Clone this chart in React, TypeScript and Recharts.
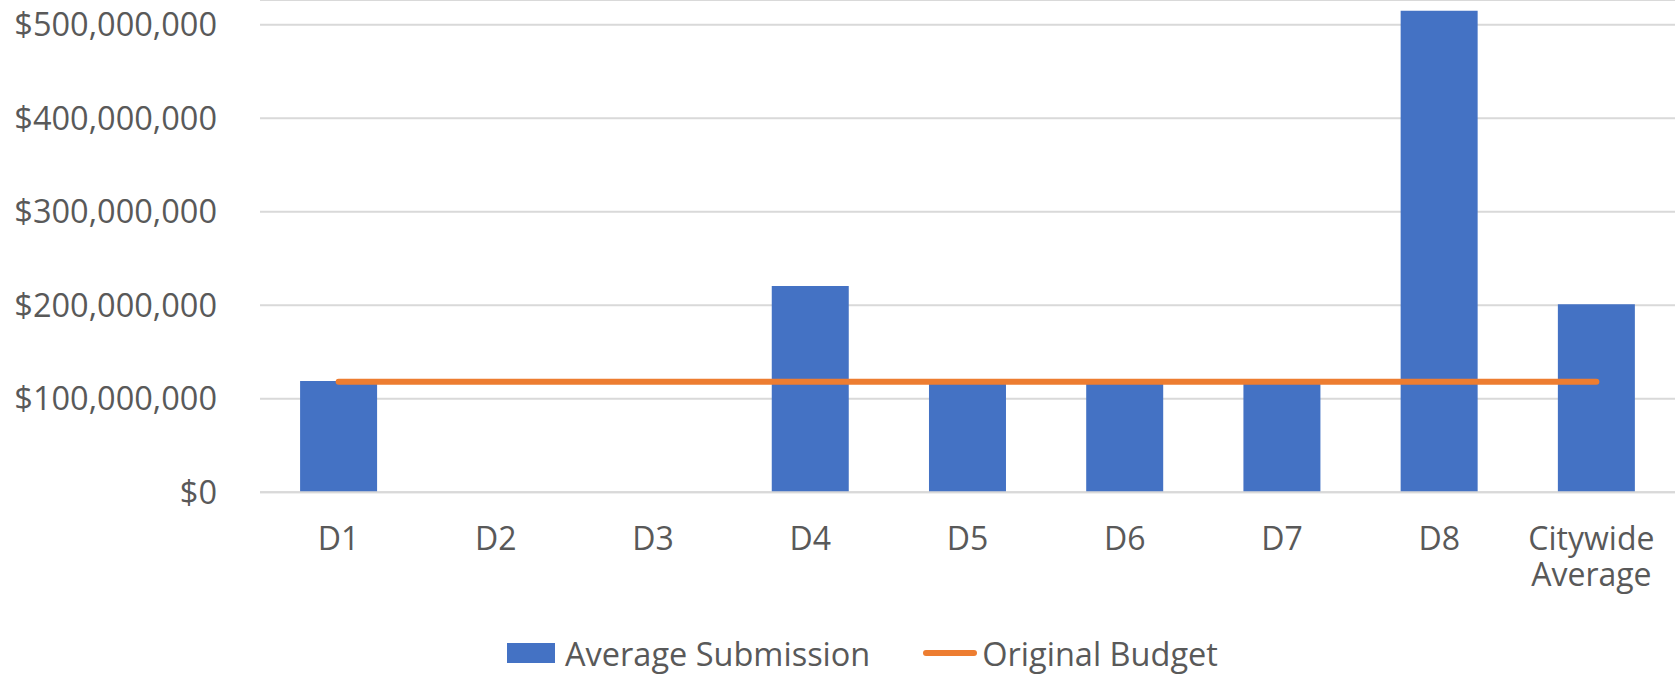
import React from "react";
import { ComposedChart, Bar, Line, XAxis, YAxis, CartesianGrid, Legend } from "recharts";

const categories = ["D1", "D2", "D3", "D4", "D5", "D6", "D7", "D8", "Citywide Average"];
const averageSubmission = [119000000, 0, 0, 220500000, 117000000, 117000000, 117000000, 515000000, 201000000];
const originalBudget = [118200000, 118200000, 118200000, 118200000, 118200000, 118200000, 118200000, 118200000, 118200000];
const yTicks = [0, 100000000, 200000000, 300000000, 400000000, 500000000];
const yMax = 526500000;

const data = categories.map((c, i) => ({
  name: c,
  avg: averageSubmission[i],
  budget: originalBudget[i],
}));

const FONT = "'Open Sans', sans-serif";
const TEXT = "#595959";

const XTick = (props: any) => {
  const { x, y, payload } = props;
  const words: string[] = String(payload.value).split(" ");
  return (
    <g>
      {words.map((w, i) => (
        <text
          key={i}
          x={x - (words.length > 1 ? 5 : 0)}
          y={y + 58 + i * 36}
          textAnchor="middle"
          fill={TEXT}
          fontFamily={FONT}
          fontSize={32}
        >
          {w}
        </text>
      ))}
    </g>
  );
};

const fmt = (v: number) => "$" + v.toLocaleString("en-US");

const LegendContent = (props: any) => {
  const payload = props.payload || [];
  return (
    <div style={{ display: "flex", alignItems: "center", fontFamily: FONT, fontSize: 32.5, color: TEXT, height: 40, whiteSpace: "nowrap" }}>
      {payload.map((p: any, i: number) => (
        <div key={i} style={{ display: "flex", alignItems: "center", marginRight: 53 }}>
          {p.type === "rect" ? (
            <div style={{ width: 48, height: 20, background: p.color, marginRight: 10 }} />
          ) : (
            <div style={{ width: 54, height: 6, borderRadius: 3, background: p.color, marginRight: 5 }} />
          )}
          <span>{p.value}</span>
        </div>
      ))}
    </div>
  );
};

export default function App() {
  return (
    <div style={{ position: "absolute", left: 0, top: 0, width: 1675, height: 675, background: "#fff" }}>
      <ComposedChart
        width={1675}
        height={675}
        data={data}
        margin={{ top: 0, right: 0, left: 0, bottom: 0 }}
        barCategoryGap="25.5%"
      >
        <CartesianGrid vertical={false} stroke="#d9d9d9" strokeWidth={2} />
        <XAxis
          dataKey="name"
          height={182.7}
          tick={<XTick />}
          tickLine={false}
          tickSize={0}
          tickMargin={0}
          axisLine={{ stroke: "#d9d9d9", strokeWidth: 2 }}
          interval={0}
        />
        <YAxis
          width={260}
          domain={[0, yMax]}
          ticks={yTicks}
          allowDataOverflow
          tickFormatter={fmt}
          tickLine={false}
          tickSize={0}
          tickMargin={43}
          axisLine={false}
          tick={{ fill: TEXT, fontFamily: FONT, fontSize: 32.5 }}
        />
        <Legend
          layout="horizontal"
          verticalAlign="middle"
          align="center"
          content={<LegendContent />}
          wrapperStyle={{ position: "absolute", top: 633, left: 507, width: 800, height: 40 }}
          payload={[
            { value: "Average Submission", type: "rect", color: "#4472C4", id: "avg" },
            { value: "Original Budget", type: "line", color: "#ED7D31", id: "budget" },
          ]}
        />
        <Bar dataKey="avg" name="Average Submission" fill="#4472C4" isAnimationActive={false} />
        <Line
          dataKey="budget"
          name="Original Budget"
          stroke="#ED7D31"
          strokeWidth={6}
          strokeLinecap="round"
          dot={false}
          activeDot={false}
          type="linear"
          isAnimationActive={false}
        />
      </ComposedChart>
    </div>
  );
}
